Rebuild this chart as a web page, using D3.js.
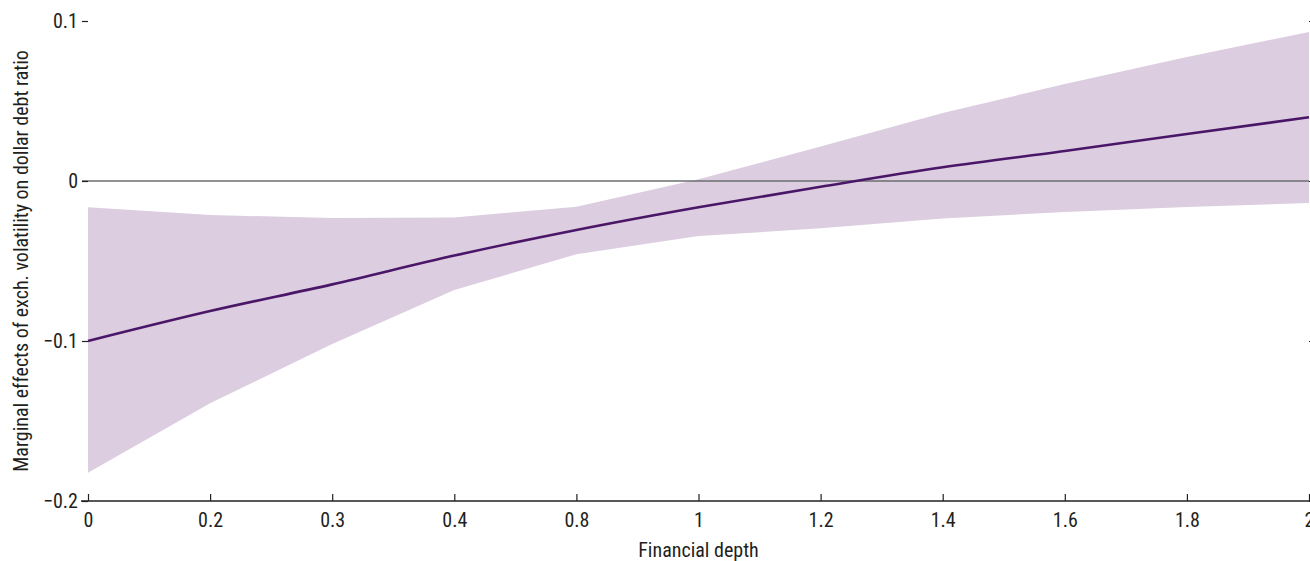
<!DOCTYPE html>
<html>
<head>
<meta charset="utf-8">
<script src="https://cdn.jsdelivr.net/npm/d3@7"></script>
<style>
  html, body { margin: 0; padding: 0; background: #fff; }
  svg { display: block; }
  text { font-family: "Liberation Sans Narrow", "Arial Narrow", "Roboto Condensed", "Liberation Sans", sans-serif; fill: #231f20; }
</style>
</head>
<body>
<svg id="chart" width="1310" height="561"></svg>
<script>
// Financial depth levels (evenly spaced categories on the x axis)
const depthLevels = ["0", "0.2", "0.3", "0.4", "0.8", "1", "1.2", "1.4", "1.6", "1.8", "2"];

// Marginal effect point estimates
const marginalEffect = [-0.100, -0.0813, -0.0646, -0.0466, -0.0306, -0.0164, -0.0036, 0.0086, 0.0188, 0.0294, 0.0398];

// Confidence band bounds
const upperBound = [-0.0164, -0.0213, -0.0231, -0.0228, -0.0161, 0.0011, 0.0216, 0.0425, 0.0606, 0.0775, 0.0931];
const lowerBound = [-0.1823, -0.1389, -0.1019, -0.0681, -0.0458, -0.0344, -0.0296, -0.0234, -0.0194, -0.0163, -0.0138];

// Y axis tick values
const yTicks = [-0.2, -0.1, 0, 0.1];

const rows = depthLevels.map((d, i) => ({
  depth: d, est: marginalEffect[i], hi: upperBound[i], lo: lowerBound[i]
}));

const svg = d3.select("#chart");
const W = 1310, H = 561;
const margin = { top: 21, right: 1, bottom: 60, left: 88 };

const x = d3.scalePoint()
  .domain(depthLevels)
  .range([margin.left, W - margin.right]);

const y = d3.scaleLinear()
  .domain([-0.2, 0.1])
  .range([H - margin.bottom, margin.top]);

const fmt = d => d === 0 ? "0" : d3.format(".1f")(d);

// Confidence band
svg.append("path")
  .datum(rows)
  .attr("fill", "#dccde0")
  .attr("d", d3.area()
    .x(d => x(d.depth))
    .y0(d => y(d.lo))
    .y1(d => y(d.hi)));

// Zero reference line
svg.append("line")
  .attr("x1", x.range()[0] - 6)
  .attr("x2", x.range()[1])
  .attr("y1", y(0))
  .attr("y2", y(0))
  .attr("stroke", "#6d6e71")
  .attr("stroke-width", 1.3);

// Point estimate line
svg.append("path")
  .datum(rows)
  .attr("fill", "none")
  .attr("stroke", "#4a1668")
  .attr("stroke-width", 2.6)
  .attr("d", d3.line()
    .curve(d3.curveMonotoneX)
    .x(d => x(d.depth))
    .y(d => y(d.est)));

// Left axis
const yAxis = svg.append("g")
  .attr("transform", `translate(${margin.left},0)`)
  .call(d3.axisLeft(y).tickValues(yTicks).tickFormat(fmt).tickSize(6).tickPadding(4));
yAxis.select(".domain").remove();
yAxis.selectAll(".tick line").attr("stroke", "#231f20").attr("stroke-width", 1.2);
yAxis.selectAll(".tick text").attr("font-size", 20).attr("fill", "#231f20");

// Right axis (ticks only)
const yAxisR = svg.append("g")
  .attr("transform", `translate(${W - margin.right},0)`)
  .call(d3.axisRight(y).tickValues(yTicks).tickFormat("").tickSize(6));
yAxisR.select(".domain").remove();
yAxisR.selectAll(".tick line").attr("stroke", "#231f20");

// Bottom axis
const xAxis = svg.append("g")
  .attr("transform", `translate(0,${H - margin.bottom})`)
  .call(d3.axisBottom(x).tickSizeInner(-7).tickSizeOuter(0).tickPadding(12));
xAxis.select(".domain").remove();
xAxis.append("line")
  .attr("x1", x.range()[0] - 7)
  .attr("x2", x.range()[1])
  .attr("stroke", "#231f20")
  .attr("stroke-width", 1.4);
xAxis.selectAll(".tick line").attr("stroke", "#231f20").attr("stroke-width", 1.2);
xAxis.selectAll(".tick text").attr("font-size", 20).attr("fill", "#231f20");

// Axis titles
svg.append("text")
  .attr("x", (x.range()[0] + x.range()[1]) / 2)
  .attr("y", 557)
  .attr("text-anchor", "middle")
  .attr("font-size", 20)
  .text("Financial depth");

svg.append("text")
  .attr("transform", `translate(28,${(y.range()[0] + y.range()[1]) / 2}) rotate(-90)`)
  .attr("text-anchor", "middle")
  .attr("font-size", 20)
  .text("Marginal effects of exch. volatility on dollar debt ratio");
</script>
</body>
</html>
